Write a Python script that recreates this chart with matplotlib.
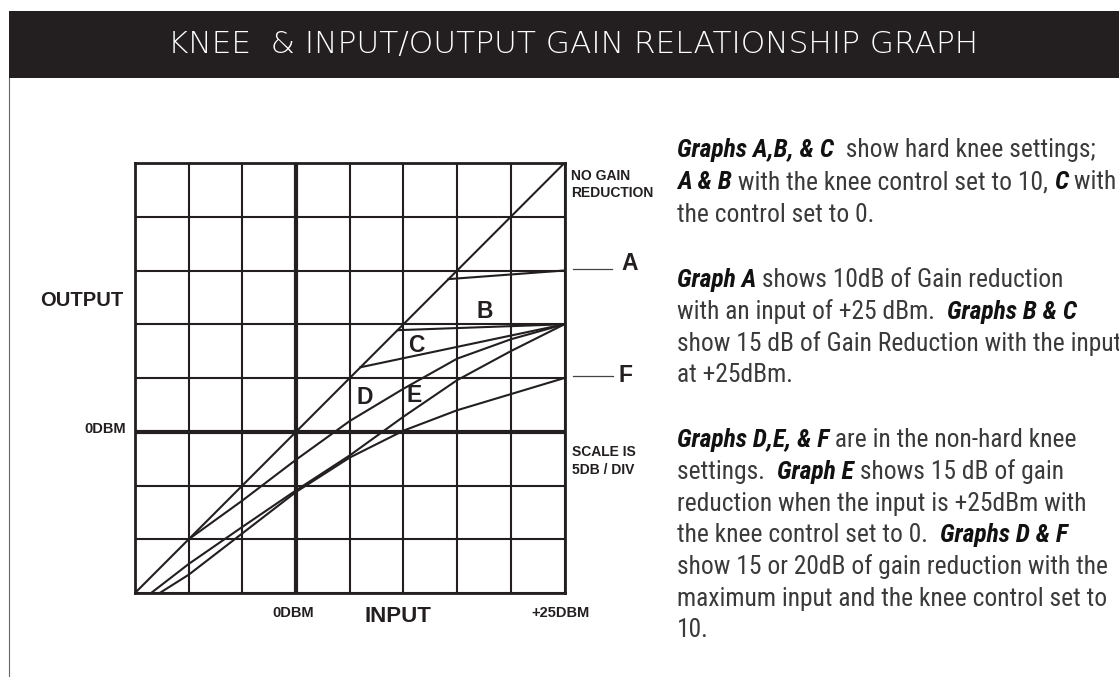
import matplotlib
matplotlib.use('Agg')
import matplotlib.pyplot as plt
from matplotlib.patches import Rectangle
from matplotlib import font_manager as fm

W, H = 1119, 677
INK = '#231f20'

# chart values, dB (5 dB per division)
grid_ticks = [-15, -10, -5, 0, 5, 10, 15, 20, 25]
unity_in = [-15, 25]
unity_out = [-15, 25]
a_in = [14.2, 25]
a_out = [14.2, 15]
b_in = [9.5, 25]
b_out = [9.45, 10]
c_in = [6.0, 25]
c_out = [6.0, 10]
d_in = [-10, -5, 0, 5, 10, 15, 20, 25]
d_out = [-10, -6.4, -2.6, 1.0, 4.0, 6.8, 8.6, 10]
e_in = [-13.5, -10, -5, 0, 5, 10, 15, 20, 25]
e_out = [-15, -12.3, -8.85, -5.45, -2.2, 1.4, 4.8, 7.5, 10]
f_in = [-12.7, -10, -5, 0, 5, 10, 15, 20, 25]
f_out = [-15, -13.3, -9.45, -5.6, -2.4, 0.1, 2.0, 3.5, 5]

title = 'KNEE  & INPUT/OUTPUT GAIN RELATIONSHIP GRAPH'

# text block on the right, (text, bold italic?)
body = [
    [('Graphs A,B, & C', True), ('  show hard knee settings;', False)],
    [('A & B', True), (' with the knee control set to 10, ', False), ('C', True), (' with', False)],
    [('the control set to 0.', False)],
    None,
    [('Graph A', True), (' shows 10dB of Gain reduction', False)],
    [('with an input of +25 dBm.  ', False), ('Graphs B & C', True)],
    [('show 15 dB of Gain Reduction with the input', False)],
    [('at +25dBm.', False)],
    None,
    [('Graphs D,E, & F', True), (' are in the non-hard knee', False)],
    [('settings.  ', False), ('Graph E', True), (' shows 15 dB of gain', False)],
    [('reduction when the input is +25dBm with', False)],
    [('the knee control set to 0.  ', False), ('Graphs D & F', True)],
    [('show 15 or 20dB of gain reduction with the', False)],
    [('maximum input and the knee control set to', False)],
    [('10.', False)],
]


def narrow_font():
    # look for any condensed / narrow face that is installed
    for fam in ['Liberation Sans Narrow', 'Roboto Condensed', 'Open Sans Condensed',
                'DejaVu Sans Condensed', 'Noto Sans Condensed']:
        try:
            fm.findfont(fm.FontProperties(family=fam), fallback_to_default=False)
            return dict(family=fam)
        except ValueError:
            pass
    for fam in ['DejaVu Sans', 'Noto Sans', 'Roboto', 'Open Sans']:
        p = fm.findfont(fm.FontProperties(family=fam, stretch='condensed'))
        if 'ondensed' in p or 'Narrow' in p:
            return dict(family=fam, fontstretch='condensed')
    return dict(family='Liberation Sans')


NARROW = narrow_font()
SANS = 'Liberation Sans'

fig = plt.figure(figsize=(W / 100, H / 100), dpi=100)
ov = fig.add_axes([0, 0, 1, 1])
ov.set_xlim(0, W)
ov.set_ylim(H, 0)
ov.axis('off')
ov.set_zorder(5)
rend = fig.canvas.get_renderer()

# header band + left rule
ov.add_patch(Rectangle((9, 11), W - 9, 67, color=INK, lw=0))
ov.plot([9, 9], [78, H], color='#666666', lw=0.8)
ov.text(573, 45, title, color='white', fontsize=22.5, ha='center', va='center',
        family='DejaVu Sans', fontweight='light')

# grid chart
ax = fig.add_axes([135 / W, (H - 593) / H, 429.5 / W, 430 / H])
ax.set_xlim(-15, 25)
ax.set_ylim(-15, 25)
ax.set_xticks(grid_ticks)
ax.set_yticks(grid_ticks)
ax.tick_params(length=0, labelbottom=False, labelleft=False)
ax.grid(True, color=INK, lw=1.5)
for s in ax.spines.values():
    s.set_linewidth(2)
    s.set_color(INK)
ax.axvline(0, color=INK, lw=3)
ax.axhline(0, color=INK, lw=3)
for xs, ys in [(unity_in, unity_out), (a_in, a_out), (b_in, b_out), (c_in, c_out),
               (d_in, d_out), (e_in, e_out), (f_in, f_out)]:
    ax.plot(xs, ys, color=INK, lw=1.5, zorder=3)

lab = dict(family=SANS, fontweight='bold', color=INK)
for t, x, y in [('B', 485, 312), ('C', 416, 345), ('D', 365, 398), ('E', 414, 396)]:
    ov.text(x, y, t, fontsize=16.5, ha='center', va='center', **lab)
ov.text(630, 263, 'A', fontsize=16.5, ha='center', va='center', **lab)
ov.text(626, 376, 'F', fontsize=16.5, ha='center', va='center', **lab)
ov.plot([573, 612], [269, 269], color='#444444', lw=0.9)
ov.plot([573, 613], [376, 376], color='#444444', lw=0.9)

ov.text(571, 176, 'NO GAIN', fontsize=10, ha='left', va='center', **lab)
ov.text(571, 193, 'REDUCTION', fontsize=10, ha='left', va='center', **lab)
ov.text(572, 452, 'SCALE IS', fontsize=10, ha='left', va='center', **lab)
ov.text(572, 470, '5DB / DIV', fontsize=10, ha='left', va='center', **lab)
ov.text(126, 429, '0DBM', fontsize=10.5, ha='right', va='center', **lab)
ov.text(123, 300, 'OUTPUT', fontsize=14.5, ha='right', va='center', **lab)
ov.text(293, 613, '0DBM', fontsize=10.5, ha='center', va='center', **lab)
ov.text(561, 613, '+25DBM', fontsize=10.5, ha='center', va='center', **lab)
ov.text(398, 616, 'INPUT', fontsize=16, ha='center', va='center', **lab)

# body text, fitted so the widest line spans ~441 px
probe = ov.text(0, 0, 'show 15 dB of Gain Reduction with the input', fontsize=10, **NARROW)
size = 10 * 441 / probe.get_window_extent(rend).width
probe.remove()

ys = [148, 180, 213, None, 278, 310, 342, 373, None, 438, 470, 502, 533, 565, 597, 628]
for segs, yc in zip(body, ys):
    if segs is None:
        continue
    x = 677
    for txt, bold in segs:
        t = ov.text(x, yc + size * 0.5, txt, fontsize=size, ha='left', va='baseline',
                    fontweight='bold' if bold else 'normal',
                    fontstyle='italic' if bold else 'normal',
                    color='#111111' if bold else '#3a3a3a', **NARROW)
        x += t.get_window_extent(rend).width

fig.savefig('out.png', dpi=100)
